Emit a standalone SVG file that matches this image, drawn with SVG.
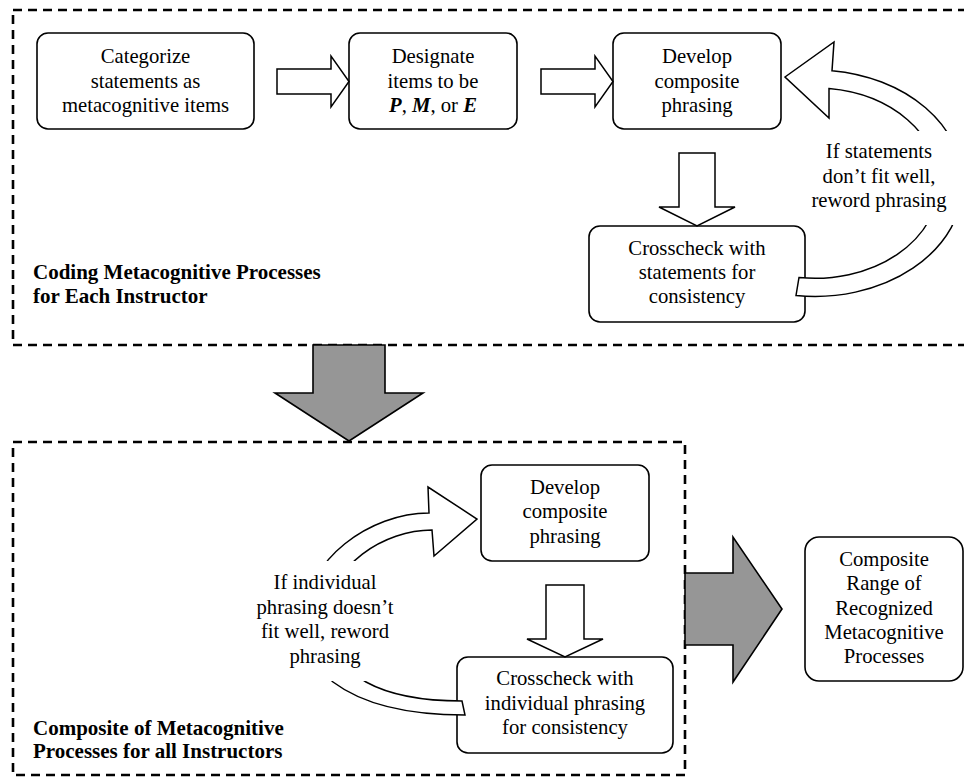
<svg xmlns="http://www.w3.org/2000/svg" width="964" height="778" viewBox="0 0 964 778">
<style>
.frame{fill:none;stroke:#000;stroke-width:2.6;stroke-dasharray:9 6}
.box{fill:#fff;stroke:#000;stroke-width:1.6}
.arr{fill:#fff;stroke:#000;stroke-width:1.5;stroke-linejoin:miter}
.big{fill:#969696;stroke:#000;stroke-width:1.6}
.t{font-family:"Liberation Serif","Times New Roman",serif;font-size:20.7px;fill:#000;text-anchor:middle}
.h{font-family:"Liberation Serif","Times New Roman",serif;font-size:21px;font-weight:bold;fill:#000}
.bi{font-weight:bold;font-style:italic}
</style>
<rect width="964" height="778" fill="#fff"/>
<g id="frame-coding">
<rect class="frame" x="13" y="10" width="962" height="335"/>
<text class="h" x="33" y="279">Coding Metacognitive Processes</text>
<text class="h" x="33" y="303">for Each Instructor</text>
</g>
<g id="frame-composite">
<rect class="frame" x="13" y="442" width="672" height="333"/>
<text class="h" x="33" y="735">Composite of Metacognitive</text>
<text class="h" x="33" y="758">Processes for all Instructors</text>
</g>
<g id="categorize">
<rect class="box" x="37" y="33" width="217" height="96" rx="11"/>
<text class="t" x="145.5" y="63">Categorize</text>
<text class="t" x="145.5" y="88">statements as</text>
<text class="t" x="145.5" y="112">metacognitive items</text>
</g>
<g id="designate">
<rect class="box" x="349" y="33" width="168" height="96" rx="11"/>
<text class="t" x="433" y="63">Designate</text>
<text class="t" x="433" y="88">items to be</text>
<text class="t" x="433" y="112"><tspan class="bi">P</tspan>, <tspan class="bi">M</tspan>, or <tspan class="bi">E</tspan></text>
</g>
<g id="develop-1">
<rect class="box" x="613" y="33" width="168" height="96" rx="11"/>
<text class="t" x="697" y="63">Develop</text>
<text class="t" x="697" y="88">composite</text>
<text class="t" x="697" y="112">phrasing</text>
</g>
<g id="crosscheck-1">
<rect class="box" x="589" y="226" width="216" height="96" rx="11"/>
<text class="t" x="697" y="255">Crosscheck with</text>
<text class="t" x="697" y="279">statements for</text>
<text class="t" x="697" y="303">consistency</text>
</g>
<g id="develop-2">
<rect class="box" x="481" y="465" width="168" height="96" rx="11"/>
<text class="t" x="565" y="494">Develop</text>
<text class="t" x="565" y="518">composite</text>
<text class="t" x="565" y="543">phrasing</text>
</g>
<g id="crosscheck-2">
<rect class="box" x="457" y="657" width="216" height="96" rx="11"/>
<text class="t" x="565" y="685">Crosscheck with</text>
<text class="t" x="565" y="710">individual phrasing</text>
<text class="t" x="565" y="734">for consistency</text>
</g>
<g id="composite-range">
<rect class="box" x="805" y="537" width="158" height="144" rx="14"/>
<text class="t" x="884" y="566">Composite</text>
<text class="t" x="884" y="590">Range of</text>
<text class="t" x="884" y="615">Recognized</text>
<text class="t" x="884" y="639">Metacognitive</text>
<text class="t" x="884" y="663">Processes</text>
</g>
<g id="connectors">
<polygon class="arr" points="277,69 331,69 331,56 349,81.5 331,107 331,94 277,94"/>
<polygon class="arr" points="541,69 595,69 595,56 613,81.5 595,107 595,94 541,94"/>
<polygon class="arr" points="679,153 715,153 715,207 735,207 697,226 659,207 679,207"/>
<path class="arr" d="M832,70.7 A148 113 0 0 1 963,183 A148 113 0 0 1 796,295.5 L799,277.5 A124 95 0 0 0 939,183 A124 95 0 0 0 829,88.6 L829,118 L785,77 L834,42 Z"/>
<rect x="895" y="131" width="69" height="94" fill="#fff"/>
<text class="t" x="879" y="158">If statements</text>
<text class="t" x="879" y="183">don’t fit well,</text>
<text class="t" x="879" y="207">reword phrasing</text>
<polygon class="arr" points="546,585 584,585 584,639 603,639 565,657 527,639 546,639"/>
<path class="arr" d="M429,513 C370,513 305,560 305,618 C305,645 318,668 333,682 C365,706 410,715 465,715 L462,701 C430,701 395,698 366,682 C345,670 328,645 328,618 C328,565 385,530 432,530 L434,556 L477,519 L428,487 Z"/>
<rect x="250" y="561" width="150" height="120" fill="#fff"/>
<text class="t" x="325" y="589">If individual</text>
<text class="t" x="325" y="614">phrasing doesn’t</text>
<text class="t" x="325" y="638">fit well, reword</text>
<text class="t" x="325" y="663">phrasing</text>
<polygon class="big" points="313,345 385,345 385,393 423,393 349,441 275,393 313,393"/>
<polygon class="big" points="685,573 733,573 733,537 782,609 733,682 733,645 685,645"/>
</g>
</svg>
